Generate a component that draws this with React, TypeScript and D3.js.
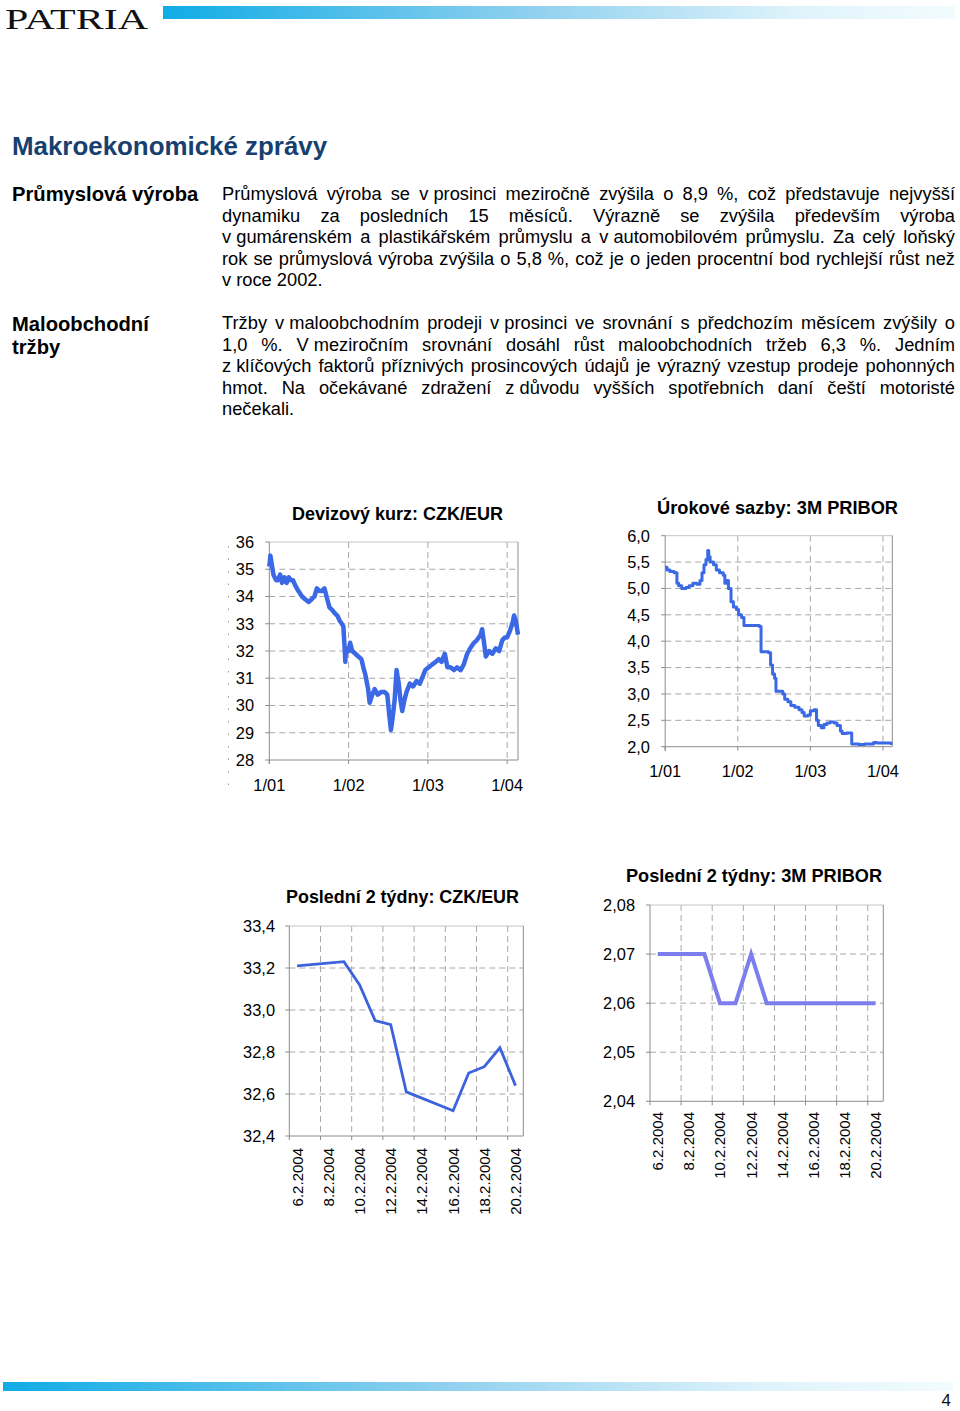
import React from 'react';
import * as d3 from 'd3';

const FONT = "'Liberation Sans', Arial, Helvetica, sans-serif";

// ---------------- text content ----------------
const heading = 'Makroekonomické zprávy';
const label1 = ['Průmyslová výroba'];
const label2 = ['Maloobchodní', 'tržby'];
const para1 = [
  'Průmyslová výroba se v\u00a0prosinci meziročně zvýšila o 8,9 %, což představuje nejvyšší',
  'dynamiku za posledních 15 měsíců. Výrazně se zvýšila především výroba',
  'v\u00a0gumárenském a plastikářském průmyslu a v\u00a0automobilovém průmyslu. Za celý loňský',
  'rok se průmyslová výroba zvýšila o 5,8 %, což je o jeden procentní bod rychlejší růst než',
  'v roce 2002.',
];
const para2 = [
  'Tržby v\u00a0maloobchodním prodeji v\u00a0prosinci ve srovnání s předchozím měsícem zvýšily o',
  '1,0 %. V\u00a0meziročním srovnání dosáhl růst maloobchodních tržeb 6,3 %. Jedním',
  'z\u00a0klíčových faktorů příznivých prosincových údajů je výrazný vzestup prodeje pohonných',
  'hmot. Na očekávané zdražení z\u00a0důvodu vyšších spotřebních daní čeští motoristé',
  'nečekali.',
];

// ---------------- chart 1: CZK/EUR ----------------
const czkDates = [
  '2001-01-01', '2001-01-06', '2001-01-12', '2001-01-20', '2001-02-01', '2001-02-10', '2001-02-20',
  '2001-03-01', '2001-03-12', '2001-03-22', '2001-04-01', '2001-04-10', '2001-04-20', '2001-05-01',
  '2001-05-15', '2001-06-01', '2001-06-15', '2001-07-01', '2001-07-15', '2001-07-28', '2001-08-08',
  '2001-08-20', '2001-09-01', '2001-09-12', '2001-09-25', '2001-10-05', '2001-10-18', '2001-10-28',
  '2001-11-10', '2001-11-22', '2001-12-01', '2001-12-08', '2001-12-14', '2001-12-17', '2001-12-20',
  '2002-01-01', '2002-01-08', '2002-01-18', '2002-02-01', '2002-02-15', '2002-03-01', '2002-03-10',
  '2002-03-20', '2002-04-01', '2002-04-08', '2002-04-20', '2002-05-01', '2002-05-15', '2002-06-01',
  '2002-06-15', '2002-06-28', '2002-07-08', '2002-07-15', '2002-07-22', '2002-08-01', '2002-08-10',
  '2002-08-20', '2002-08-28', '2002-09-05', '2002-09-15', '2002-09-25', '2002-10-10', '2002-10-25',
  '2002-11-10', '2002-11-25', '2002-12-05', '2002-12-20', '2003-01-05', '2003-01-20', '2003-02-05',
  '2003-02-20', '2003-03-05', '2003-03-20', '2003-04-01', '2003-04-15', '2003-05-01', '2003-05-15',
  '2003-06-01', '2003-06-15', '2003-07-01', '2003-07-15', '2003-08-01', '2003-08-15', '2003-09-01',
  '2003-09-08', '2003-09-15', '2003-09-25', '2003-10-10', '2003-10-25', '2003-11-10', '2003-11-25',
  '2003-12-10', '2003-12-22', '2004-01-01', '2004-01-12', '2004-01-25', '2004-02-02', '2004-02-10',
  '2004-02-20',
];
const czkValues = [
  35.1, 35.5, 35.2, 34.8, 34.6, 34.6, 34.8,
  34.5, 34.7, 34.5, 34.7, 34.6, 34.6, 34.4,
  34.2, 34.0, 33.9, 33.8, 33.9, 34.0, 34.3,
  34.2, 34.2, 34.3, 33.9, 33.6, 33.5, 33.4,
  33.3, 33.1, 33.0, 32.9, 32.1, 31.6, 32.1,
  32.0, 32.3, 32.0, 31.9, 31.8, 31.7, 31.4,
  31.1, 30.6, 30.1, 30.4, 30.6, 30.4, 30.5,
  30.5, 30.4, 29.6, 29.1, 29.5, 30.2, 31.3,
  30.8, 30.2, 29.8, 30.2, 30.5, 30.8, 30.7,
  30.9, 30.8, 31.0, 31.3, 31.4, 31.5, 31.6,
  31.7, 31.6, 31.9, 31.4, 31.4, 31.3, 31.4,
  31.3, 31.5, 31.9, 32.1, 32.3, 32.4, 32.6,
  32.8, 32.4, 31.8, 32.0, 31.9, 32.1, 32.0,
  32.4, 32.5, 32.5, 32.7, 33.0, 33.3, 33.1,
  32.6,
];
const czkYTicks = [28, 29, 30, 31, 32, 33, 34, 35, 36];
const yearTickDates = ['2001-01-01', '2002-01-01', '2003-01-01', '2004-01-01'];
const yearTickLabels = ['1/01', '1/02', '1/03', '1/04'];

// ---------------- chart 2: 3M PRIBOR ----------------
const priborDates = [
  '2001-01-01', '2001-01-10', '2001-01-25', '2001-02-15', '2001-03-01', '2001-03-10', '2001-03-25',
  '2001-04-15', '2001-05-01', '2001-05-20', '2001-06-10', '2001-06-25', '2001-07-05', '2001-07-15',
  '2001-07-25', '2001-08-03', '2001-08-08', '2001-08-15', '2001-09-01', '2001-09-15', '2001-10-01',
  '2001-10-20', '2001-10-28', '2001-11-05', '2001-11-15', '2001-11-28', '2001-12-10', '2001-12-25',
  '2002-01-05', '2002-01-20', '2002-02-01', '2002-04-20', '2002-04-28', '2002-06-05', '2002-06-15',
  '2002-06-25', '2002-07-05', '2002-07-12', '2002-08-15', '2002-08-25', '2002-09-10', '2002-09-25',
  '2002-10-15', '2002-11-05', '2002-11-20', '2002-12-01', '2002-12-20', '2003-01-01', '2003-01-20',
  '2003-02-01', '2003-02-10', '2003-02-25', '2003-03-10', '2003-03-25', '2003-04-10', '2003-05-01',
  '2003-05-15', '2003-06-01', '2003-06-10', '2003-07-01', '2003-07-28', '2003-09-01', '2003-10-01',
  '2003-11-15', '2003-12-01', '2004-01-15', '2004-02-10', '2004-02-17',
];
const priborValues = [
  5.40, 5.35, 5.32, 5.30, 5.10, 5.05, 5.00,
  5.02, 5.05, 5.10, 5.08, 5.15, 5.30, 5.45,
  5.55, 5.72, 5.60, 5.50, 5.45, 5.35, 5.30,
  5.25, 5.10, 5.15, 5.00, 4.75, 4.65, 4.60,
  4.50, 4.45, 4.30, 4.28, 3.80, 3.78, 3.55,
  3.38, 3.30, 3.05, 3.00, 2.90, 2.85, 2.78,
  2.75, 2.70, 2.65, 2.58, 2.60, 2.68, 2.70,
  2.50, 2.40, 2.36, 2.42, 2.45, 2.47, 2.45,
  2.40, 2.30, 2.25, 2.26, 2.05, 2.04, 2.05,
  2.08, 2.07, 2.07, 2.06, 2.06,
];
const priborYTicks = [2.0, 2.5, 3.0, 3.5, 4.0, 4.5, 5.0, 5.5, 6.0];

// ---------------- charts 3 & 4: last two weeks ----------------
const febDays = [
  '6.2.2004', '7.2.2004', '8.2.2004', '9.2.2004', '10.2.2004', '11.2.2004', '12.2.2004', '13.2.2004',
  '14.2.2004', '15.2.2004', '16.2.2004', '17.2.2004', '18.2.2004', '19.2.2004', '20.2.2004',
];
const febTickLabels = ['6.2.2004', '8.2.2004', '10.2.2004', '12.2.2004', '14.2.2004', '16.2.2004', '18.2.2004', '20.2.2004'];
const febGridDays = ['8.2.2004', '10.2.2004', '12.2.2004', '14.2.2004', '16.2.2004', '18.2.2004', '20.2.2004'];
const tradingDays = ['6.2.2004', '9.2.2004', '10.2.2004', '11.2.2004', '12.2.2004', '13.2.2004', '16.2.2004', '17.2.2004', '18.2.2004', '19.2.2004', '20.2.2004'];
const czkWeekValues = [33.21, 33.23, 33.12, 32.95, 32.93, 32.61, 32.52, 32.70, 32.73, 32.82, 32.64];
const czkWeekYTicks = [32.4, 32.6, 32.8, 33.0, 33.2, 33.4];
const priborWeekValues = [2.07, 2.07, 2.06, 2.06, 2.07, 2.06, 2.06, 2.06, 2.06, 2.06, 2.06];
const priborWeekYTicks = [2.04, 2.05, 2.06, 2.07, 2.08];

// ---------------- helpers ----------------
const parse = d3.timeParse('%Y-%m-%d');
let ctx: CanvasRenderingContext2D | null = null;
function measure(t: string, font: string) {
  if (!ctx) ctx = document.createElement('canvas').getContext('2d');
  if (!ctx) return t.length * 9;
  ctx.font = font;
  return ctx.measureText(t).width;
}
const comma = (d: number, digits: number) => d.toFixed(digits).replace('.', ',');

const GRID = '#a8a8a8';
const AXIS = '#8c8c8c';

function Paragraph({ lines, x, width, y0, step, size }: any) {
  const font = `${size}px 'Liberation Sans'`;
  return (
    <g fontFamily={FONT} fontSize={size} fill="#000">
      {lines.map((line: string, i: number) => {
        const y = y0 + i * step;
        if (i === lines.length - 1) {
          return <text key={i} x={x} y={y}>{line}</text>;
        }
        const words = line.split(' ');
        const widths = words.map((w) => measure(w, font));
        const total = widths.reduce((a, b) => a + b, 0);
        const gap = (width - total) / (words.length - 1);
        let cx = x;
        return (
          <text key={i} y={y}>
            {words.map((w, j) => {
              const px = cx;
              cx += widths[j] + gap;
              return <tspan key={j} x={px}>{w}</tspan>;
            })}
          </text>
        );
      })}
    </g>
  );
}

function TimeChart(p: any) {
  const x = d3.scaleTime().domain(p.xDomain.map((s: string) => parse(s) as Date)).range([p.left, p.right]);
  const y = d3.scaleLinear().domain([p.yTicks[0], p.yTicks[p.yTicks.length - 1]]).range([p.bottom, p.top]);
  const pts: [Date, number][] = p.dates.map((d: string, i: number) => [parse(d) as Date, p.values[i]]);
  const line = d3.line<[Date, number]>().x((d) => x(d[0])).y((d) => y(d[1])).curve(p.curve);
  const xt = p.xTickDates.map((s: string) => x(parse(s) as Date));
  return (
    <g fontFamily={FONT}>
      {p.yTicks.slice(1, -1).map((v: number) => (
        <line key={'h' + v} x1={p.left} x2={p.right} y1={y(v)} y2={y(v)} stroke={GRID} strokeDasharray="6,4" />
      ))}
      {xt.slice(1).map((xx: number, i: number) => (
        <line key={'v' + i} x1={xx} x2={xx} y1={p.top} y2={p.bottom} stroke={GRID} strokeDasharray="6,4" />
      ))}
      <line x1={p.left} x2={p.right} y1={p.top} y2={p.top} stroke="#c4c4c4" />
      <line x1={p.right} x2={p.right} y1={p.top} y2={p.bottom} stroke={AXIS} />
      <line x1={p.left} x2={p.left} y1={p.top} y2={p.bottom + 4} stroke={AXIS} />
      <line x1={p.left} x2={p.right} y1={p.bottom} y2={p.bottom} stroke={AXIS} />
      {p.yTicks.map((v: number) => (
        <line key={'yt' + v} x1={p.left - 4} x2={p.left} y1={y(v)} y2={y(v)} stroke={AXIS} />
      ))}
      {xt.map((xx: number, i: number) => (
        <line key={'xt' + i} x1={xx} x2={xx} y1={p.bottom} y2={p.bottom + 4} stroke={AXIS} />
      ))}
      <path d={line(pts) || ''} fill="none" stroke={p.color} strokeWidth={p.width} strokeLinejoin="round" />
      {p.yTicks.map((v: number) => (
        <text key={'yl' + v} x={p.yLabelX} y={y(v)} dy="0.36em" textAnchor="end" fontSize={16.4}>
          {p.yFormat(v)}
        </text>
      ))}
      {xt.map((xx: number, i: number) => (
        <text key={'xl' + i} x={xx} y={p.xLabelY} textAnchor="middle" fontSize={16.4}>
          {p.xTickLabels[i]}
        </text>
      ))}
      <text x={p.title.x} y={p.title.y} fontSize={18} fontWeight="bold" textLength={p.title.len} lengthAdjust="spacingAndGlyphs">
        {p.title.text}
      </text>
    </g>
  );
}

function BandChart(p: any) {
  const x = d3.scaleBand().domain(febDays).range([p.left, p.right]).padding(0);
  const y = d3.scaleLinear().domain([p.yTicks[0], p.yTicks[p.yTicks.length - 1]]).range([p.bottom, p.top]);
  const cx = (d: string) => (x(d) as number) + x.bandwidth() / 2;
  const pts: [string, number][] = tradingDays.map((d, i) => [d, p.values[i]]);
  const line = d3.line<[string, number]>().x((d) => cx(d[0])).y((d) => y(d[1]));
  return (
    <g fontFamily={FONT}>
      {p.yTicks.slice(1, -1).map((v: number) => (
        <line key={'h' + v} x1={p.left} x2={p.right} y1={y(v)} y2={y(v)} stroke={GRID} strokeDasharray="6,4" />
      ))}
      {febGridDays.map((d) => (
        <line key={'v' + d} x1={x(d)} x2={x(d)} y1={p.top} y2={p.bottom} stroke={GRID} strokeDasharray="6,4" />
      ))}
      <line x1={p.left} x2={p.right} y1={p.top} y2={p.top} stroke="#c4c4c4" />
      <line x1={p.right} x2={p.right} y1={p.top} y2={p.bottom} stroke={AXIS} />
      <line x1={p.left} x2={p.left} y1={p.top} y2={p.bottom} stroke={AXIS} />
      <line x1={p.left} x2={p.right} y1={p.bottom} y2={p.bottom} stroke={AXIS} />
      {p.yTicks.map((v: number) => (
        <line key={'yt' + v} x1={p.left - 4} x2={p.left} y1={y(v)} y2={y(v)} stroke={AXIS} />
      ))}
      {[febDays[0], ...febGridDays].map((d) => (
        <line key={'xt' + d} x1={x(d)} x2={x(d)} y1={p.bottom} y2={p.bottom + 4} stroke={AXIS} />
      ))}
      <path d={line(pts) || ''} fill="none" stroke={p.color} strokeWidth={p.width} strokeLinejoin="miter" />
      {p.yTicks.map((v: number) => (
        <text key={'yl' + v} x={p.yLabelX} y={y(v)} dy="0.36em" textAnchor="end" fontSize={16.4}>
          {p.yFormat(v)}
        </text>
      ))}
      {febTickLabels.map((d) => (
        <text key={'xl' + d} transform={`translate(${cx(d)},${p.xLabelY}) rotate(-90)`} dy="0.36em" textAnchor="end" fontSize={15}>
          {d}
        </text>
      ))}
      <text x={p.title.x} y={p.title.y} fontSize={18} fontWeight="bold" textLength={p.title.len} lengthAdjust="spacingAndGlyphs">
        {p.title.text}
      </text>
    </g>
  );
}

export default function App() {
  return (
    <svg width={960} height={1411} style={{ position: 'absolute', left: 0, top: 0, background: '#fff' }}>
      <defs>
        <linearGradient id="bar" x1="0" x2="1" y1="0" y2="0">
          <stop offset="0" stopColor="#10ace6" />
          <stop offset="0.45" stopColor="#8ccfee" />
          <stop offset="0.8" stopColor="#dff3fb" />
          <stop offset="1" stopColor="#f2fcfe" />
        </linearGradient>
      </defs>
      <rect width={960} height={1411} fill="#fff" />
      {/* header */}
      <text x={5} y={29} fontFamily="'Liberation Serif', 'DejaVu Serif', serif" fontSize={30} textLength={143} lengthAdjust="spacingAndGlyphs" fill="#111">
        PATRIA
      </text>
      <rect x={163} y={6} width={792} height={13} fill="url(#bar)" />

      <text x={12} y={155} fontFamily={FONT} fontSize={25.9} fontWeight="bold" fill="#16406f">
        {heading}
      </text>

      <g fontFamily={FONT} fontSize={20.2} fontWeight="bold" fill="#000">
        <text x={12} y={201}>{label1[0]}</text>
        <text x={12} y={331}>{label2[0]}</text>
        <text x={12} y={354}>{label2[1]}</text>
      </g>

      <Paragraph lines={para1} x={222} width={733} y0={200} step={21.5} size={18.3} />
      <Paragraph lines={para2} x={222} width={733} y0={329} step={21.5} size={18.3} />

      {/* dotted artefact left of chart 1 */}
      <line x1={228.5} x2={228.5} y1={546} y2={786} stroke="#999" strokeDasharray="1.5,11" />

      <TimeChart
        left={269.3} right={518} top={542} bottom={760}
        xDomain={['2001-01-01', '2004-02-20']}
        dates={czkDates} values={czkValues}
        yTicks={czkYTicks} yFormat={(v: number) => String(v)} yLabelX={254}
        xTickDates={yearTickDates} xTickLabels={yearTickLabels} xLabelY={791}
        curve={d3.curveLinear} color="#3b69e6" width={4.5}
        title={{ text: 'Devizový kurz: CZK/EUR', x: 292, y: 520, len: 211 }}
      />
      <TimeChart
        left={665.2} right={892.3} top={535.7} bottom={746.7}
        xDomain={['2001-01-01', '2004-02-17']}
        dates={priborDates} values={priborValues}
        yTicks={priborYTicks} yFormat={(v: number) => comma(v, 1)} yLabelX={650}
        xTickDates={yearTickDates} xTickLabels={yearTickLabels} xLabelY={777}
        curve={d3.curveStepAfter} color="#3b69e6" width={3}
        title={{ text: 'Úrokové sazby: 3M PRIBOR', x: 657, y: 514, len: 241 }}
      />
      <BandChart
        left={289.3} right={523.3} top={926} bottom={1136}
        values={czkWeekValues} yTicks={czkWeekYTicks} yFormat={(v: number) => comma(v, 1)} yLabelX={275}
        xLabelY={1148} color="#3c62dc" width={2.8}
        title={{ text: 'Poslední 2 týdny: CZK/EUR', x: 286, y: 903, len: 233 }}
      />
      <BandChart
        left={650} right={883.3} top={905} bottom={1101.3}
        values={priborWeekValues} yTicks={priborWeekYTicks} yFormat={(v: number) => comma(v, 2)} yLabelX={635}
        xLabelY={1112} color="#7c7eee" width={4}
        title={{ text: 'Poslední 2 týdny: 3M PRIBOR', x: 626, y: 882, len: 256 }}
      />

      {/* footer */}
      <rect x={3} y={1382} width={950} height={9} fill="url(#bar)" />
      <text x={951} y={1406} textAnchor="end" fontFamily="'Liberation Sans Narrow', 'Liberation Sans', sans-serif" fontSize={17} fill="#111">
        4
      </text>
    </svg>
  );
}
